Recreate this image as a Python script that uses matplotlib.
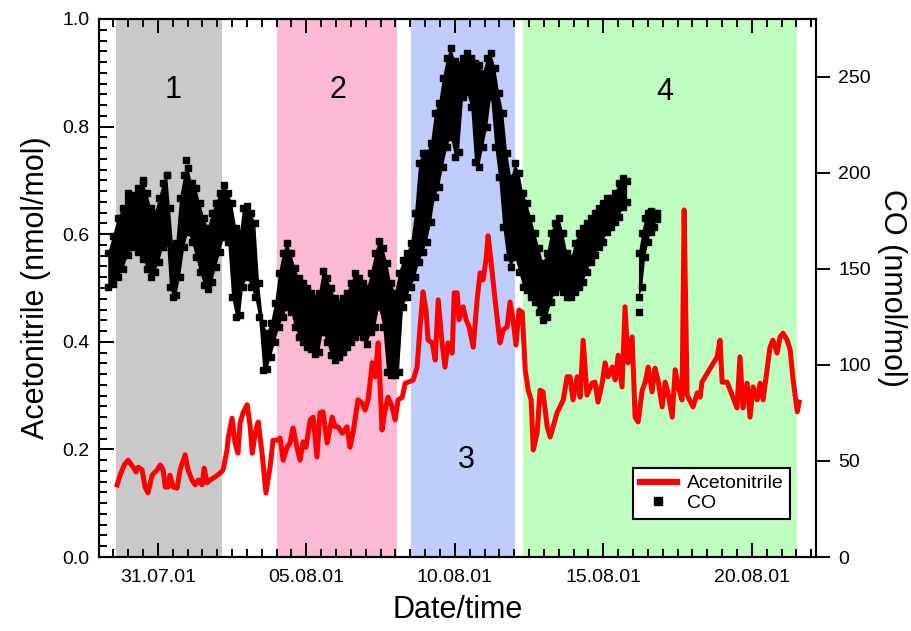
import matplotlib
matplotlib.use('Agg')
import matplotlib.pyplot as plt
import matplotlib.dates as mdates
from matplotlib.lines import Line2D
from matplotlib.ticker import MultipleLocator, FixedLocator, NullLocator
import numpy as np
import datetime as dt

plt.rcParams['font.family'] = ['Liberation Sans', 'DejaVu Sans']

# ---------------- data ----------------
BASE = dt.datetime(2001, 7, 29)   # time values are days since 29.07.01 00:00

# Acetonitrile (nmol/mol)
acn_t = [0.63, 0.73, 0.87, 1.00, 1.17, 1.27, 1.34, 1.47, 1.57, 1.67, 1.81, 1.98, 2.08, 2.18, 2.25,
         2.35, 2.41, 2.52, 2.65, 2.75, 2.92, 3.02, 3.15, 3.26, 3.36, 3.49, 3.56, 3.66, 3.76, 3.93,
         4.10, 4.20, 4.33, 4.37, 4.50, 4.60, 4.70, 4.77, 4.87, 5.01, 5.11, 5.18, 5.28, 5.38, 5.51,
         5.64, 5.78, 5.88, 6.02, 6.12, 6.22, 6.35, 6.45, 6.55, 6.69, 6.79, 6.89, 6.99, 7.13, 7.23,
         7.36, 7.46, 7.56, 7.70, 7.87, 7.97, 8.07, 8.21, 8.37, 8.47, 8.57, 8.74, 8.88, 8.98, 9.08,
         9.22, 9.32, 9.42, 9.55, 9.65, 9.75, 9.89, 9.99, 10.09, 10.23, 10.33, 10.43, 10.60, 10.73, 10.83,
         10.93, 11.03, 11.10, 11.24, 11.34, 11.44, 11.57, 11.67, 11.77, 11.91, 11.98, 12.08, 12.14, 12.28, 12.38,
         12.48, 12.62, 12.75, 12.85, 12.95, 13.05, 13.12, 13.22, 13.32, 13.42, 13.52, 13.63, 13.76, 13.86, 13.96,
         14.06, 14.16, 14.27, 14.37, 14.47, 14.57, 14.64, 14.77, 14.87, 14.97, 15.11, 15.21, 15.31, 15.44, 15.54,
         15.65, 15.78, 15.88, 15.98, 16.12, 16.22, 16.32, 16.45, 16.62, 16.72, 16.82, 16.96, 17.06, 17.16, 17.30,
         17.40, 17.50, 17.63, 17.73, 17.83, 17.97, 18.07, 18.17, 18.31, 18.41, 18.51, 18.64, 18.74, 18.84, 18.98,
         19.08, 19.18, 19.32, 19.42, 19.52, 19.65, 19.72, 19.82, 20.02, 20.16, 20.26, 20.32, 20.83, 20.93, 21.00,
         21.17, 21.50, 21.60, 21.70, 21.84, 21.94, 22.04, 22.18, 22.28, 22.38, 22.51, 22.61, 22.71, 22.85, 22.95,
         23.05, 23.19, 23.29, 23.39, 23.53, 23.59]
acn_v = [0.134, 0.152, 0.171, 0.180, 0.167, 0.158, 0.167, 0.162, 0.130, 0.119, 0.152, 0.162, 0.171, 0.162, 0.130,
         0.130, 0.152, 0.130, 0.128, 0.162, 0.190, 0.162, 0.143, 0.134, 0.143, 0.134, 0.165, 0.138, 0.143, 0.149,
         0.156, 0.162, 0.199, 0.221, 0.258, 0.212, 0.193, 0.249, 0.268, 0.283, 0.242, 0.193, 0.230, 0.251, 0.193,
         0.119, 0.167, 0.217, 0.217, 0.221, 0.180, 0.204, 0.212, 0.240, 0.203, 0.180, 0.214, 0.204, 0.255, 0.260,
         0.186, 0.268, 0.270, 0.212, 0.260, 0.242, 0.242, 0.230, 0.242, 0.204, 0.230, 0.292, 0.286, 0.273, 0.292,
         0.361, 0.335, 0.398, 0.236, 0.273, 0.297, 0.279, 0.255, 0.292, 0.297, 0.323, 0.325, 0.329, 0.353, 0.428,
         0.493, 0.459, 0.403, 0.398, 0.366, 0.478, 0.398, 0.353, 0.398, 0.379, 0.491, 0.491, 0.441, 0.465, 0.441,
         0.428, 0.390, 0.478, 0.528, 0.515, 0.552, 0.597, 0.548, 0.496, 0.446, 0.398, 0.422, 0.428, 0.474, 0.441,
         0.394, 0.459, 0.455, 0.348, 0.310, 0.292, 0.199, 0.230, 0.310, 0.307, 0.242, 0.223, 0.242, 0.268, 0.279,
         0.292, 0.335, 0.335, 0.292, 0.335, 0.297, 0.403, 0.301, 0.323, 0.325, 0.288, 0.323, 0.361, 0.335, 0.353,
         0.329, 0.375, 0.316, 0.465, 0.361, 0.409, 0.260, 0.251, 0.310, 0.325, 0.353, 0.307, 0.351, 0.329, 0.279,
         0.325, 0.305, 0.260, 0.348, 0.316, 0.292, 0.645, 0.301, 0.279, 0.305, 0.297, 0.325, 0.372, 0.403, 0.325,
         0.325, 0.277, 0.372, 0.277, 0.323, 0.260, 0.316, 0.292, 0.323, 0.292, 0.348, 0.390, 0.403, 0.379, 0.409,
         0.416, 0.403, 0.385, 0.329, 0.270, 0.288]

# CO (nmol/mol): lowest and highest value in each time bin (NaN = no data)
co_t = [0.33, 0.49, 0.66, 0.83, 1.00, 1.17, 1.34, 1.51, 1.64, 1.77, 1.91, 2.04, 2.18, 2.31, 2.41,
        2.52, 2.62, 2.75, 2.89, 3.02, 3.15, 3.29, 3.42, 3.56, 3.69, 3.83, 3.96, 4.10, 4.23, 4.37,
        4.50, 4.64, 4.77, 4.87, 5.01, 5.14, 5.28, 5.41, 5.55, 5.68, 5.81, 5.95, 6.08, 6.22, 6.35,
        6.49, 6.62, 6.76, 6.89, 7.03, 7.16, 7.30, 7.43, 7.56, 7.70, 7.83, 7.97, 8.10, 8.24, 8.37,
        8.51, 8.64, 8.78, 8.91, 9.05, 9.18, 9.32, 9.45, 9.59, 9.72, 9.85, 9.99, 10.12, 10.26, 10.39,
        10.53, 10.66, 10.80, 10.93, 11.06, 11.20, 11.33, 11.47, 11.60, 11.74, 11.87, 12.01, 12.14, 12.28, 12.41,
        12.55, 12.68, 12.82, 12.95, 13.09, 13.22, 13.36, 13.49, 13.63, 13.76, 13.90, 14.03, 14.17, 14.30, 14.43,
        14.57, 14.70, 14.84, 14.97, 15.11, 15.24, 15.38, 15.51, 15.65, 15.78, 15.92, 16.05, 16.18, 16.32, 16.45,
        16.59, 16.72, 16.86, 16.99, 17.13, 17.26, 17.40, 17.53, 17.67, 17.80, 18.00, 18.20, 18.31, 18.41, 18.51,
        18.61, 18.71, 18.81]
co_hi = [159.9, 168.7, 178.1, 183.3, 187.5, 190.1, 193.7, 196.3, 191.1, 183.3, 180.7, 188.5, 196.3, 200.5, 183.3,
         162.5, 165.1, 188.5, 200.5, 204.2, 196.3, 193.7, 185.9, 178.1, 172.9, 180.7, 185.9, 191.1, 195.3, 191.1,
         185.9, 172.9, 170.3, 183.3, 184.4, 180.7, 175.5, 144.3, 123.4, 118.2, 123.4, 133.8, 149.5, 159.9, 165.1,
         159.9, 152.1, 146.9, 144.3, 141.7, 139.1, 136.4, 139.1, 150.5, 146.9, 141.7, 136.4, 133.8, 136.4, 139.1,
         144.3, 149.5, 146.9, 144.3, 141.7, 149.5, 159.9, 166.1, 162.5, 154.7, 144.3, 139.1, 149.5, 156.2, 159.9,
         165.1, 180.7, 206.8, 212.0, 212.0, 217.2, 232.8, 238.0, 251.0, 261.4, 266.6, 259.9, 257.8, 261.4, 264.0,
         261.4, 258.8, 257.8, 253.6, 261.4, 264.0, 256.2, 243.2, 232.8, 212.0, 198.9, 206.8, 201.6, 191.1, 185.9,
         178.1, 170.3, 162.5, 154.7, 159.9, 170.3, 175.5, 178.1, 170.3, 159.9, 157.3, 165.1, 170.3, 172.9, 175.5,
         178.1, 180.7, 183.3, 185.9, 188.5, 188.5, 191.1, 196.3, 198.9, 197.4, np.nan, 159.9, 170.3, 178.1, 180.7,
         181.8, 180.7, 180.7]
co_lo = [139.1, 140.6, 144.3, 148.4, 155.7, 159.9, 157.3, 153.6, 148.4, 144.3, 146.9, 152.1, 159.9, 162.5, 139.1,
         133.8, 134.9, 144.3, 159.9, 167.7, 162.5, 154.7, 146.9, 140.1, 138.0, 141.7, 149.5, 157.3, 165.1, 162.5,
         133.8, 123.4, 124.5, 139.1, 144.3, 139.1, 133.8, 123.4, 95.8, 96.3, 102.6, 110.4, 118.2, 123.4, 128.6,
         126.0, 118.2, 113.0, 110.4, 107.8, 106.8, 104.2, 105.2, 115.6, 110.4, 103.6, 101.0, 102.6, 105.2, 107.8,
         110.4, 113.0, 115.6, 113.0, 109.4, 115.6, 118.2, 128.6, 118.2, 94.8, 93.2, 93.2, 94.8, 128.6, 133.8,
         139.1, 144.3, 152.1, 157.3, 162.5, 172.9, 185.9, 191.1, 201.6, 212.0, 217.2, 206.8, 209.4, 238.0, 240.6,
         232.8, 204.2, 201.6, 212.0, 222.4, 238.0, 212.0, 196.3, 170.3, 154.7, 149.5, 154.7, 146.9, 139.1, 137.5,
         133.8, 131.2, 126.0, 121.9, 123.4, 131.2, 136.4, 139.1, 136.4, 133.8, 133.8, 136.4, 139.1, 141.7, 146.9,
         152.1, 155.7, 159.9, 162.5, 167.7, 170.3, 172.9, 175.5, 180.7, 183.3, np.nan, 133.8, 139.1, 154.7, 162.5,
         167.7, 170.3, 174.5]

# isolated CO samples
co_out_t = [1.00, 1.51, 2.31, 2.96, 18.20]
co_out_v = [189.6, 196.3, 198.9, 206.8, 127.6]

# campaign periods
period_start = [0.60, 6.02, 10.53, 14.30]
period_end = [4.17, 10.06, 14.03, 23.53]
period_names = ['1', '2', '3', '4']
period_colors = ['#c9c9c9', '#fcb9d6', '#bfcdfc', '#bffcbf']
period_label_t = [2.52, 8.07, 12.38, 19.08]
period_label_v = [0.868, 0.868, 0.180, 0.864]

tick_days = [2, 7, 12, 17, 22]


def to_x(days):
    return mdates.date2num(BASE) + np.asarray(days, dtype=float)


# ---------------- figure ----------------
fig = plt.figure(figsize=(9.11, 6.31), dpi=100)
ax = fig.add_axes([99 / 911, 74 / 631, 717 / 911, 538 / 631])
ax2 = ax.twinx()

for s, e, c in zip(period_start, period_end, period_colors):
    ax.axvspan(to_x(s), to_x(e), color=c, lw=0, zorder=0)
for t, v, n in zip(period_label_t, period_label_v, period_names):
    ax.text(to_x(t), v, n, fontsize=22, ha='center', va='center', zorder=1)

ax.plot(to_x(acn_t), acn_v, color='#ff0000', lw=3.6, solid_joinstyle='round', zorder=3)

co_x = to_x(co_t)
lo = np.asarray(co_lo, dtype=float)
hi = np.asarray(co_hi, dtype=float)
ax2.fill_between(co_x, lo + 1.5, hi - 1.5, color='black', lw=0)
ax2.plot(co_x, lo + 1.5, 's', color='black', ms=5, ls='none')
ax2.plot(co_x, hi - 1.5, 's', color='black', ms=5, ls='none')
ax2.plot(to_x(co_out_t), co_out_v, 's', color='black', ms=5, ls='none')

ax.set_xlim(to_x(0.02), to_x(24.16))
ax.set_ylim(0, 1.0)
ax2.set_ylim(0, 280.2)

ax.xaxis.set_major_locator(FixedLocator(to_x(tick_days)))
ax.xaxis.set_major_formatter(mdates.DateFormatter('%d.%m.%y'))
ax.xaxis.set_minor_locator(MultipleLocator(0.5))
ax.yaxis.set_major_locator(MultipleLocator(0.2))
ax.yaxis.set_minor_locator(MultipleLocator(0.02))
ax.yaxis.set_major_formatter(matplotlib.ticker.FormatStrFormatter('%.1f'))
ax2.yaxis.set_major_locator(MultipleLocator(50))
ax2.yaxis.set_minor_locator(NullLocator())

ax.tick_params(axis='x', which='major', direction='in', length=10, width=1.4, labelsize=14,
               top=True, pad=9)
ax.tick_params(axis='x', which='minor', direction='in', length=5.5, width=1.4, top=True)
ax.tick_params(axis='y', which='major', direction='in', length=11, width=1.4, labelsize=14, pad=7,
               right=False)
ax.tick_params(axis='y', which='minor', direction='in', length=5.5, width=1.4, right=False)
ax2.tick_params(axis='y', which='major', direction='out', length=10, width=1.4, labelsize=14, pad=6)

for a in (ax, ax2):
    for sp in a.spines.values():
        sp.set_linewidth(1.5)
        sp.set_zorder(5)

ax.set_xlabel('Date/time', fontsize=22, labelpad=6)
ax.set_ylabel('Acetonitrile (nmol/mol)', fontsize=22, labelpad=8)
ax2.set_ylabel('CO (nmol/mol)', fontsize=22, rotation=270, labelpad=26)

handles = [Line2D([], [], color='#ff0000', lw=4.5),
           Line2D([], [], marker='s', color='black', ls='none', ms=6)]
leg = ax2.legend(handles, ['Acetonitrile', 'CO'], loc='lower right',
                 bbox_to_anchor=(0.964, 0.071), fontsize=14, frameon=True, fancybox=False,
                 edgecolor='black', framealpha=1, handlelength=1.9, handletextpad=0.5,
                 labelspacing=0.1, borderpad=0.35, borderaxespad=0)
leg.get_frame().set_linewidth(1.5)

fig.savefig('out.png', dpi=100)
